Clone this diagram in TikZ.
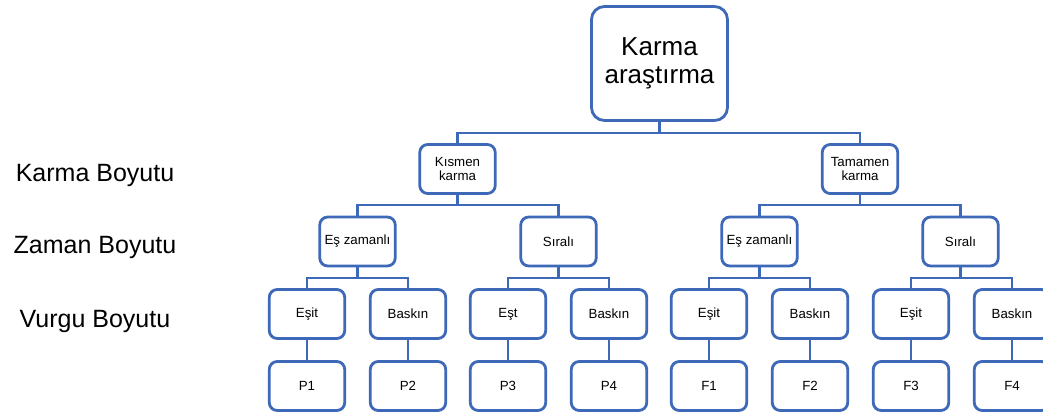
\documentclass[tikz,border=0pt]{standalone}
\usepackage{fontspec}
\setmainfont{Liberation Sans}
\definecolor{bl}{RGB}{62,104,184}
\begin{document}
\begin{tikzpicture}[x=1pt,y=-1pt,
  box/.style={draw=bl,line width=2.8pt,rounded corners=8pt,minimum width=75.5pt,minimum height=49pt,inner sep=0pt,align=center,font=\fontsize{13.3}{13.5}\selectfont,fill=white},
  rootbox/.style={box,minimum width=136pt,minimum height=114pt,rounded corners=13pt,font=\fontsize{26}{28}\selectfont},
  conn/.style={draw=bl,line width=2.8pt},
  lbl/.style={anchor=base,font=\fontsize{25}{28}\selectfont}]
\useasboundingbox (0,0) rectangle (1043,414);
\fill[white] (0,0) rectangle (1043,414);

% bus levels
\coordinate (b0) at (0,133);
\coordinate (b1) at (0,205);
\coordinate (b2) at (0,278);

\node[rootbox] (root) at (659.5,63.5) {Karma\\araştırma};
\node[box] (k1) at (457.5,169) {Kısmen\\karma};
\node[box] (t1) at (860,169) {Tamamen\\karma};

\node[box] (a1) at (357.5,241.5) {Eş zamanlı};
\node[box] (a2) at (558.5,241.5) {Sıralı};
\node[box] (a3) at (759.5,241.5) {Eş zamanlı};
\node[box] (a4) at (960.5,241.5) {Sıralı};

\node[box] (c1) at (307,314) {Eşit};
\node[box] (c2) at (408,314) {Baskın};
\node[box] (c3) at (508,314) {Eşt};
\node[box] (c4) at (609,314) {Baskın};
\node[box] (c5) at (709,314) {Eşit};
\node[box] (c6) at (810,314) {Baskın};
\node[box] (c7) at (911,314) {Eşit};
\node[box] (c8) at (1012,314) {Baskın};

\node[box] (d1) at (307,386) {P1};
\node[box] (d2) at (408,386) {P2};
\node[box] (d3) at (508,386) {P3};
\node[box] (d4) at (609,386) {P4};
\node[box] (d5) at (709,386) {F1};
\node[box] (d6) at (810,386) {F2};
\node[box] (d7) at (911,386) {F3};
\node[box] (d8) at (1012,386) {F4};

\draw[conn] (root.south) -- (root.south |- b0) -| (k1.north);
\draw[conn] (root.south) -- (root.south |- b0) -| (t1.north);

\draw[conn] (k1.south) -- (k1.south |- b1) -| (a1.north);
\draw[conn] (k1.south) -- (k1.south |- b1) -| (a2.north);
\draw[conn] (t1.south) -- (t1.south |- b1) -| (a3.north);
\draw[conn] (t1.south) -- (t1.south |- b1) -| (a4.north);

\draw[conn] (a1.south) -- (a1.south |- b2) -| (c1.north);
\draw[conn] (a1.south) -- (a1.south |- b2) -| (c2.north);
\draw[conn] (a2.south) -- (a2.south |- b2) -| (c3.north);
\draw[conn] (a2.south) -- (a2.south |- b2) -| (c4.north);
\draw[conn] (a3.south) -- (a3.south |- b2) -| (c5.north);
\draw[conn] (a3.south) -- (a3.south |- b2) -| (c6.north);
\draw[conn] (a4.south) -- (a4.south |- b2) -| (c7.north);
\draw[conn] (a4.south) -- (a4.south |- b2) -| (c8.north);

\foreach \i in {1,...,8} \draw[conn] (c\i.south) -- (d\i.north);

\node[lbl] (l1) at (95,182) {Karma Boyutu};
\node[lbl] (l2) at (95,253) {Zaman Boyutu};
\node[lbl] (l3) at (95,327) {Vurgu Boyutu};
\end{tikzpicture}
\end{document}
